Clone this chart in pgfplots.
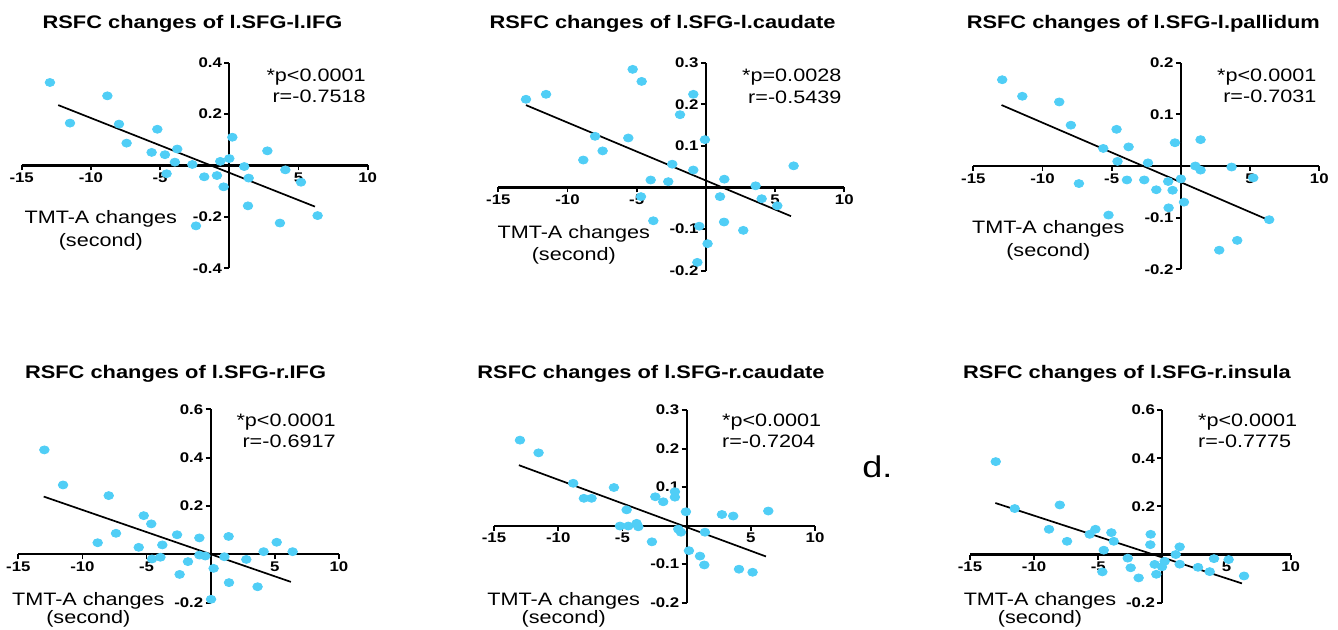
\documentclass[border=0pt]{standalone}
\usepackage{fontspec}
\setmainfont{Liberation Sans}[FakeStretch=1.2]
\usepackage{pgfplots}
\pgfplotsset{compat=1.18}
\definecolor{dot}{RGB}{80,206,246}

\pgfplotsset{
  panel/.style={
    scale only axis, anchor=south west,
    axis lines=middle, axis line style={-, line width=1.1pt},
    axis on top, clip=false,
    xmin=-15, xmax=10, xtick={-15,-10,-5,5,10},
    tick align=outside, major tick length=2.5pt,
    tick style={line width=0.9pt, black},
    ticklabel style={font=\bfseries\fontsize{7}{8}\selectfont, inner sep=1pt},
    /pgf/number format/assume math mode=true,
    yticklabel style={/pgf/number format/fixed, /pgf/number format/precision=1},
  },
  dots/.style={only marks, mark=*, mark size=2pt, color=dot,
    mark options={xscale=1.2, draw=none, fill=dot}},
  fit/.style={black, line width=0.85pt, no marks},
}
\newcommand{\ttl}{\bfseries\fontsize{9.1}{11}\selectfont}
\newcommand{\ann}{\fontsize{9}{11}\selectfont}

\begin{document}
\begin{tikzpicture}[x=0.5pt, y=0.5pt]
\path[use as bounding box] (0,0) rectangle (1338,630);

% top left
\begin{axis}[panel, at={(10.85pt,180.85pt)}, width=173pt, height=102.8pt,
  ymin=-0.4, ymax=0.4, ytick={-0.4,-0.2,0.2,0.4}]
\addplot[dots] coordinates {(-12.96,0.323) (-8.81,0.271) (-11.51,0.165) (-7.97,0.161) (-7.42,0.087) (-5.20,0.141) (-5.61,0.051) (-4.65,0.042) (-3.76,0.064) (-3.93,0.013) (-4.53,-0.032) (-2.67,0.004) (-1.81,-0.044) (-0.89,-0.039) (-0.65,0.016) (-0.41,-0.083) (0.0,0.027) (0.22,0.110) (1.08,-0.004) (1.40,-0.049) (1.35,-0.157) (-2.41,-0.235) (2.75,0.057) (4.05,-0.017) (5.18,-0.065) (3.66,-0.224) (6.38,-0.195)};
\addplot[fit] coordinates {(-12.36,0.235) (6.19,-0.160)};
\end{axis}

% top middle
\begin{axis}[panel, at={(249.15pt,179.65pt)}, width=173pt, height=104pt,
  ymin=-0.2, ymax=0.3, ytick={-0.2,-0.1,0.1,0.2,0.3}]
\addplot[dots] coordinates {(-13.0,0.212) (-11.55,0.224) (-5.29,0.284) (-4.64,0.255) (-0.91,0.224) (-1.87,0.175) (-8.01,0.123) (-5.61,0.119) (-0.07,0.115) (-7.46,0.088) (-8.86,0.066) (-2.43,0.056) (-0.91,0.042) (-3.99,0.018) (-2.72,0.014) (1.33,0.020) (6.34,0.052) (3.59,0.004) (-4.69,-0.022) (1.02,-0.022) (4.03,-0.027) (5.16,-0.044) (-3.80,-0.080) (1.31,-0.083) (2.70,-0.103) (-0.48,-0.093) (0.12,-0.135) (-0.62,-0.180)};
\addplot[fit] coordinates {(-13.0,0.198) (6.15,-0.069)};
\end{axis}

% top right
\begin{axis}[panel, at={(486.65pt,180.35pt)}, width=173pt, height=103.3pt,
  ymin=-0.2, ymax=0.2, ytick={-0.2,-0.1,0.1,0.2}]
\addplot[dots] coordinates {(-12.91,0.167) (-11.46,0.135) (-8.79,0.124) (-7.95,0.079) (-4.65,0.071) (-5.61,0.034) (-3.78,0.037) (-4.58,0.009) (-2.38,0.006) (-0.43,0.045) (1.42,0.051) (1.04,0.0) (1.42,-0.008) (3.66,-0.002) (5.23,-0.023) (-7.37,-0.034) (-3.90,-0.027) (-2.65,-0.027) (-1.78,-0.046) (-0.92,-0.030) (-0.60,-0.047) (0.0,-0.025) (0.22,-0.070) (-0.89,-0.081) (-5.23,-0.095) (6.38,-0.104) (4.07,-0.144) (2.77,-0.163)};
\addplot[fit] coordinates {(-12.96,0.118) (6.19,-0.103)};
\end{axis}

% bottom left
\begin{axis}[panel, at={(9.15pt,13.65pt)}, width=160.3pt, height=96.7pt,
  ymin=-0.2, ymax=0.6, ytick={-0.2,0.2,0.4,0.6}]
\addplot[dots] coordinates {(-12.97,0.432) (-11.51,0.287) (-7.95,0.243) (-5.22,0.160) (-4.63,0.126) (-7.38,0.087) (-8.81,0.048) (-5.61,0.029) (-3.77,0.039) (-2.62,0.081) (-0.88,0.068) (1.40,0.074) (-4.57,-0.019) (-3.92,-0.012) (-1.77,-0.030) (-0.88,-0.003) (-0.42,-0.007) (0.23,-0.058) (-2.42,-0.083) (1.07,-0.010) (2.78,-0.021) (4.13,0.011) (5.15,0.050) (6.39,0.011) (1.43,-0.117) (3.66,-0.134) (0.03,-0.186)};
\addplot[fit] coordinates {(-13.02,0.239) (6.26,-0.114)};
\end{axis}

% bottom middle
\begin{axis}[panel, at={(247pt,13.65pt)}, width=160.5pt, height=96.3pt,
  ymin=-0.2, ymax=0.3, ytick={-0.2,-0.1,0.1,0.2,0.3}]
\addplot[dots] coordinates {(-12.98,0.222) (-11.53,0.189) (-8.83,0.110) (-8.0,0.071) (-7.40,0.071) (-5.66,0.099) (-4.67,0.041) (-5.19,-0.001) (-4.54,-0.001) (-3.89,0.006) (-3.76,-0.003) (-2.44,0.075) (-1.82,0.062) (-0.91,0.088) (-0.91,0.074) (-2.70,-0.042) (-0.65,-0.009) (-0.44,-0.017) (-0.05,0.036) (0.18,-0.065) (1.43,-0.017) (1.04,-0.079) (1.38,-0.102) (2.75,0.029) (3.63,0.025) (6.36,0.038) (4.08,-0.113) (5.14,-0.121)};
\addplot[fit] coordinates {(-13.06,0.157) (6.18,-0.080)};
\end{axis}

% bottom right
\begin{axis}[panel, at={(485pt,13.65pt)}, width=160.3pt, height=96.3pt,
  ymin=-0.2, ymax=0.6, ytick={-0.2,0.2,0.4,0.6}]
\addplot[dots] coordinates {(-12.99,0.386) (-8.0,0.206) (-11.51,0.191) (-8.84,0.105) (-7.43,0.055) (-5.22,0.105) (-5.67,0.084) (-3.98,0.091) (-3.79,0.055) (-4.57,0.018) (-4.68,-0.072) (-2.70,-0.015) (-2.47,-0.055) (-1.85,-0.097) (-0.91,0.084) (-0.94,0.041) (-0.60,-0.041) (-0.47,-0.082) (-0.03,-0.051) (0.18,-0.028) (1.04,0.0) (1.35,0.032) (1.35,-0.040) (2.78,-0.053) (3.69,-0.071) (4.03,-0.017) (5.17,-0.021) (6.37,-0.089)};
\addplot[fit] coordinates {(-13.02,0.214) (6.21,-0.120)};
\end{axis}

% titles
\node[font=\ttl, anchor=base] at (192.5,601.7) {RSFC changes of l.SFG-l.IFG};
\node[font=\ttl, anchor=base] at (662.5,601.7) {RSFC changes of l.SFG-l.caudate};
\node[font=\ttl, anchor=base] at (1143.3,601.7) {RSFC changes of l.SFG-l.pallidum};
\node[font=\ttl, anchor=base] at (175.5,251.7) {RSFC changes of l.SFG-r.IFG};
\node[font=\ttl, anchor=base] at (651,251.7) {RSFC changes of l.SFG-r.caudate};
\node[font=\ttl, anchor=base] at (1127,251) {RSFC changes of l.SFG-r.insula};

% statistics
\node[font=\ann, anchor=base east, inner sep=0pt] at (366,548.3) {*p<0.0001};
\node[font=\ann, anchor=base east, inner sep=0pt] at (366,527.7) {r=-0.7518};
\node[font=\ann, anchor=base east, inner sep=0pt] at (841.7,548.3) {*p=0.0028};
\node[font=\ann, anchor=base east, inner sep=0pt] at (841.7,526.7) {r=-0.5439};
\node[font=\ann, anchor=base east, inner sep=0pt] at (1316.7,548.3) {*p<0.0001};
\node[font=\ann, anchor=base east, inner sep=0pt] at (1316.7,527.3) {r=-0.7031};
\node[font=\ann, anchor=base east, inner sep=0pt] at (336,203.3) {*p<0.0001};
\node[font=\ann, anchor=base east, inner sep=0pt] at (336,182.7) {r=-0.6917};
\node[font=\ann, anchor=base west, inner sep=0pt] at (721.7,203.3) {*p<0.0001};
\node[font=\ann, anchor=base west, inner sep=0pt] at (721.7,182.7) {r=-0.7204};
\node[font=\ann, anchor=base west, inner sep=0pt] at (1197.7,203.3) {*p<0.0001};
\node[font=\ann, anchor=base west, inner sep=0pt] at (1197.7,182.7) {r=-0.7775};

% x axis labels
\foreach \cx/\cy/\gap in {100.8/406/22.7, 573.8/391.7/22.7, 1048.3/396/22.7, 88.3/24.5/18.5, 563.7/24.5/18.5, 1040/24.5/18.5} {
  \node[font=\ann, anchor=base, inner sep=0pt] at (\cx,\cy) {TMT-A changes};
  \node[font=\ann, anchor=base, inner sep=0pt] at (\cx,\cy-\gap) {(second)};
}

\node[font=\fontsize{15}{18}\selectfont, anchor=base west, inner sep=0pt] at (862,152) {d.};
\end{tikzpicture}
\end{document}
